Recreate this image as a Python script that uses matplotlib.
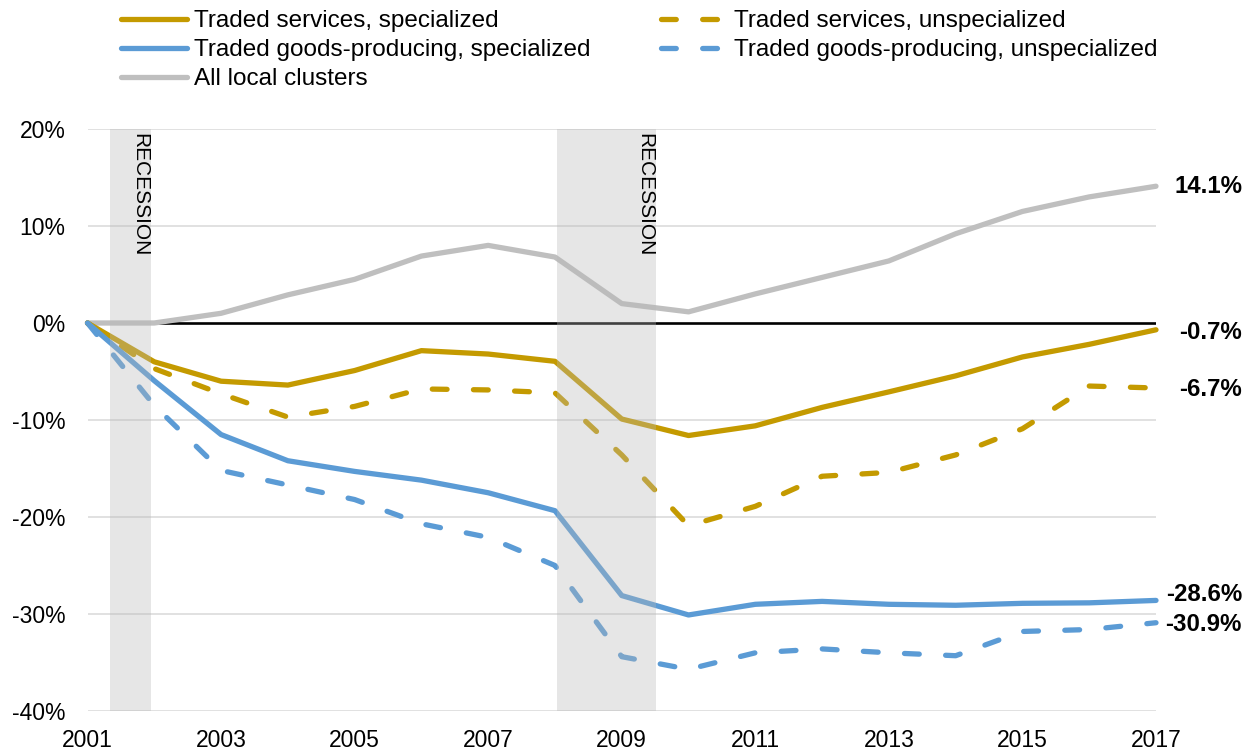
import matplotlib
matplotlib.use("Agg")
import matplotlib.pyplot as plt
from matplotlib.lines import Line2D
import matplotlib.transforms as mtransforms

plt.rcParams['font.family'] = ['Liberation Sans', 'DejaVu Sans']

years = list(range(2001, 2018))

traded_services_spec = [0.0, -4.0, -6.0, -6.4, -4.9, -2.85, -3.2, -3.95, -9.9, -11.6,
                        -10.6, -8.7, -7.1, -5.45, -3.5, -2.2, -0.7]
traded_services_unspec = [0.0, -4.7, -7.3, -9.7, -8.6, -6.8, -6.9, -7.2, -13.6, -20.9,
                          -18.9, -15.8, -15.4, -13.6, -10.9, -6.5, -6.7]
traded_goods_spec = [0.0, -5.95, -11.5, -14.2, -15.3, -16.2, -17.5, -19.35, -28.1, -30.1,
                     -29.0, -28.7, -29.0, -29.1, -28.9, -28.85, -28.6]
traded_goods_unspec = [0.0, -8.5, -15.2, -16.7, -18.2, -20.7, -22.1, -25.0, -34.4, -35.7,
                       -34.0, -33.6, -34.0, -34.3, -31.8, -31.6, -30.9]
all_local = [0.0, 0.0, 1.0, 2.9, 4.5, 6.9, 8.0, 6.8, 2.0, 1.15,
             3.0, 4.7, 6.4, 9.2, 11.5, 13.0, 14.1]

recession_starts = [2001.33, 2008.03]
recession_ends = [2001.95, 2009.52]

y_ticks = [-40, -30, -20, -10, 0, 10, 20]
x_ticks = list(range(2001, 2018, 2))

GOLD = '#C49A00'
BLUE = '#5B9BD5'
GRAY = '#BFBFBF'

W, H = 1251, 752
fig = plt.figure(figsize=(W / 100, H / 100), dpi=100)
ax = fig.add_axes([87.5 / W, 1 - 711 / H, (1156 - 87.5) / W, (711 - 129) / H])

ax.set_xlim(2001, 2017)
ax.set_ylim(-40, 20)
for s in ax.spines.values():
    s.set_visible(False)

ax.set_yticks(y_ticks)
ax.set_yticklabels([f"{v}%" for v in y_ticks])
ax.set_xticks(x_ticks)
ax.set_xticklabels([str(v) for v in x_ticks])
ax.tick_params(axis='y', length=0, pad=16, labelsize=16.5)
ax.tick_params(axis='x', length=0, pad=13, labelsize=16.5)

for v in y_ticks:
    if v != 0:
        ax.axhline(v, color='#D9D9D9', lw=1.1, zorder=1)
ax.axhline(0, color='black', lw=1.9, zorder=2)

LW = 3.8
DASH = (0, (2.8, 5.0))
common = dict(lw=LW, clip_on=False, solid_capstyle='round', dash_capstyle='round',
              solid_joinstyle='round', dash_joinstyle='round')

ax.plot(years, all_local, color=GRAY, zorder=3, **common)
ax.plot(years, traded_services_unspec, color=GOLD, ls=DASH, zorder=4, **common)
ax.plot(years, traded_goods_unspec, color=BLUE, ls=DASH, zorder=4, **common)
ax.plot(years, traded_services_spec, color=GOLD, zorder=5, **common)
ax.plot(years, traded_goods_spec, color=BLUE, zorder=5, **common)

for a, b in zip(recession_starts, recession_ends):
    ax.axvspan(a, b, color='#B8B8B8', alpha=0.35, lw=0, zorder=6)
    ax.text(b - 0.17, 19.6, 'RECESSION', rotation=270, ha='center', va='top',
            fontsize=15, zorder=7)

# end labels
trans = mtransforms.blended_transform_factory(fig.transFigure, ax.transData)
end_vals = [all_local[-1], traded_services_spec[-1], traded_services_unspec[-1],
            traded_goods_spec[-1], traded_goods_unspec[-1]]
offsets = [0.0, -0.3, -0.2, 0.6, -0.2]
for v, o in zip(end_vals, offsets):
    ax.text(1242 / W, v + o, f"{v:.1f}%", transform=trans, ha='right', va='center',
            fontsize=17.3, fontweight='bold')

# legends
def solid(c):
    return Line2D([], [], color=c, lw=LW, solid_capstyle='round')

def dashed(c):
    return Line2D([], [], color=c, lw=LW, ls=DASH, dash_capstyle='round')

leg_kw = dict(loc='upper left', frameon=False, fontsize=17.5, borderpad=0,
              handlelength=2.7, handletextpad=0.3, labelspacing=0.29, borderaxespad=0)
leg1 = fig.legend([solid(GOLD), solid(BLUE), solid(GRAY)],
                  ['Traded services, specialized', 'Traded goods-producing, specialized',
                   'All local clusters'],
                  bbox_to_anchor=(121 / W, 1 - 10 / H), **leg_kw)
leg2 = fig.legend([dashed(GOLD), dashed(BLUE)],
                  ['Traded services, unspecialized', 'Traded goods-producing, unspecialized'],
                  bbox_to_anchor=(661 / W, 1 - 10 / H), **leg_kw)

fig.savefig('out.png', dpi=100)
